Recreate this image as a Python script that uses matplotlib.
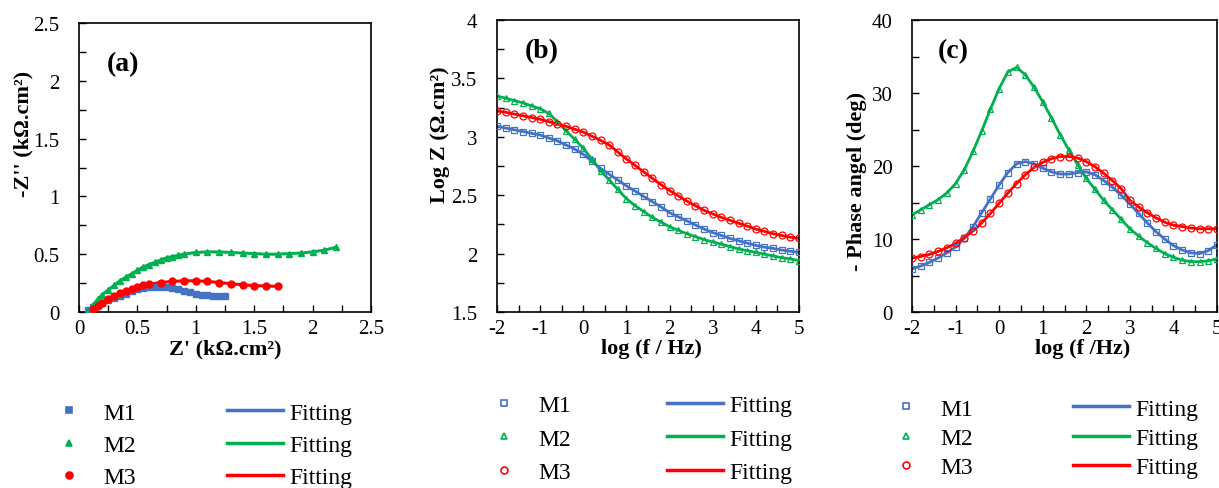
import numpy as np
import matplotlib
matplotlib.use("Agg")
import matplotlib.pyplot as plt
from matplotlib.ticker import MultipleLocator
from matplotlib.lines import Line2D

plt.rcParams['font.family'] = ['Liberation Serif', 'DejaVu Serif']

# ---------------- data ----------------
# (a) Nyquist
m1_zre = [0.08, 0.12, 0.16, 0.2, 0.25, 0.3, 0.35, 0.4, 0.45, 0.5, 0.55, 0.6, 0.65, 0.7, 0.75,
          0.8, 0.85, 0.9, 0.95, 1.0, 1.05, 1.1, 1.15, 1.2, 1.25]
m1_zim = [0.02, 0.04, 0.06, 0.08, 0.10, 0.12, 0.14, 0.16, 0.18, 0.195, 0.205, 0.215, 0.22, 0.22, 0.215,
          0.21, 0.195, 0.18, 0.17, 0.16, 0.15, 0.145, 0.14, 0.135, 0.135]
m2_zre = [0.08, 0.12, 0.16, 0.2, 0.25, 0.3, 0.35, 0.4, 0.45, 0.5, 0.55, 0.6, 0.65, 0.7, 0.75, 0.8,
          0.85, 0.9, 1.0, 1.1, 1.2, 1.3, 1.4, 1.5, 1.6, 1.7, 1.8, 1.9, 2.0, 2.1, 2.2]
m2_zim = [0.0, 0.06, 0.11, 0.15, 0.19, 0.23, 0.27, 0.30, 0.33, 0.36, 0.39, 0.41, 0.43, 0.45, 0.47, 0.48,
          0.49, 0.50, 0.515, 0.52, 0.52, 0.515, 0.51, 0.505, 0.50, 0.50, 0.505, 0.51, 0.52, 0.535, 0.56]
m3_zre = [0.12, 0.16, 0.2, 0.25, 0.3, 0.35, 0.4, 0.45, 0.5, 0.55, 0.6, 0.7, 0.8, 0.9, 1.0, 1.1,
          1.2, 1.3, 1.4, 1.5, 1.6, 1.7]
m3_zim = [0.03, 0.05, 0.08, 0.11, 0.14, 0.165, 0.185, 0.20, 0.215, 0.23, 0.24, 0.255, 0.265, 0.27, 0.27, 0.265,
          0.255, 0.245, 0.235, 0.228, 0.225, 0.222]

# (b), (c) Bode
logf = [-2.0, -1.8, -1.6, -1.4, -1.2, -1.0, -0.8, -0.6, -0.4, -0.2, 0.0, 0.2, 0.4, 0.6, 0.8, 1.0, 1.2, 1.4,
        1.6, 1.8, 2.0, 2.2, 2.4, 2.6, 2.8, 3.0, 3.2, 3.4, 3.6, 3.8, 4.0, 4.2, 4.4, 4.6, 4.8, 5.0]
m1_logz = [3.09, 3.075, 3.06, 3.045, 3.03, 3.015, 2.99, 2.965, 2.93, 2.895, 2.85, 2.79, 2.73, 2.68, 2.63, 2.58,
           2.535, 2.49, 2.445, 2.40, 2.35, 2.315, 2.28, 2.245, 2.21, 2.18, 2.155, 2.13, 2.11, 2.09, 2.07,
           2.055, 2.045, 2.03, 2.02, 2.01]
m2_logz = [3.35, 3.33, 3.31, 3.29, 3.265, 3.24, 3.20, 3.13, 3.05, 2.98, 2.90, 2.81, 2.71, 2.63, 2.55, 2.47,
           2.41, 2.36, 2.31, 2.27, 2.23, 2.20, 2.17, 2.145, 2.12, 2.10, 2.08, 2.06, 2.04, 2.025, 2.01,
           1.995, 1.98, 1.965, 1.955, 1.94]
m3_logz = [3.22, 3.21, 3.195, 3.18, 3.165, 3.15, 3.13, 3.11, 3.09, 3.065, 3.04, 3.005, 2.97, 2.93, 2.87, 2.81,
           2.755, 2.70, 2.645, 2.59, 2.54, 2.495, 2.45, 2.41, 2.37, 2.34, 2.31, 2.285, 2.26, 2.235, 2.21,
           2.19, 2.17, 2.155, 2.14, 2.13]
m1_phase = [5.9, 6.3, 6.8, 7.4, 8.1, 8.9, 10.1, 11.7, 13.6, 15.5, 17.4, 19.1, 20.3, 20.6, 20.3, 19.7,
            19.2, 18.9, 18.9, 19.1, 19.2, 18.8, 18.0, 17.1, 16.0, 14.8, 13.5, 12.2, 11.0, 10.0, 9.1,
            8.5, 8.1, 8.0, 8.4, 9.2]
m2_phase = [13.3, 14.0, 14.7, 15.4, 16.3, 17.6, 19.5, 22.0, 24.8, 27.8, 30.6, 32.9, 33.5, 32.5, 30.8, 28.8,
            26.6, 24.3, 22.2, 20.2, 18.3, 16.8, 15.3, 14.0, 12.7, 11.4, 10.4, 9.5, 8.7, 8.0, 7.5,
            7.1, 6.9, 6.9, 7.0, 7.3]
m3_phase = [7.4, 7.6, 7.9, 8.3, 8.8, 9.4, 10.2, 11.1, 12.2, 13.5, 14.9, 16.3, 17.6, 18.8, 19.8, 20.5,
            21.0, 21.3, 21.3, 21.1, 20.6, 19.9, 19.0, 18.0, 16.9, 15.3, 14.4, 13.6, 12.9, 12.3, 11.9,
            11.7, 11.5, 11.4, 11.4, 11.4]

labels = ['M1', 'M2', 'M3']
colors = ['#4472C4', '#00B050', '#FF0000']
fit_label = 'Fitting'

# ---------------- figure ----------------
W, H = 1219, 489
fig = plt.figure(figsize=(W / 100, H / 100), dpi=100)

def ax_at(l, t, r, b):
    return fig.add_axes([l / W, 1 - b / H, (r - l) / W, (b - t) / H])

axa = ax_at(79, 24, 371, 313)
axb = ax_at(497, 21, 799, 313)
axc = ax_at(912, 21, 1217, 313)

TFS = 15   # tick labels
LFS = 16   # axis labels
GFS = 17   # legend
PFS = 20   # panel letters

def style(ax):
    ax.tick_params(which='both', direction='in', length=5, width=1, labelsize=TFS,
                   top=False, right=False)
    ax.tick_params(axis='x', pad=5)
    ax.tick_params(axis='y', pad=14)
    for s in ax.spines.values():
        s.set_linewidth(1.2)

# (a)
nyq = [(m1_zre, m1_zim, 's'), (m2_zre, m2_zim, '^'), (m3_zre, m3_zim, 'o')]
for (x, y, mk), c in zip(nyq, colors):
    axa.plot(x, y, color=c, lw=2.2, zorder=2)
    axa.plot(x, y, mk, color=c, ms=5, mec=c, zorder=3)
axa.set_xlim(0, 2.5)
axa.set_ylim(0, 2.5)
axa.xaxis.set_major_locator(MultipleLocator(0.5))
axa.xaxis.set_minor_locator(MultipleLocator(0.25))
axa.yaxis.set_major_locator(MultipleLocator(0.5))
axa.yaxis.set_minor_locator(MultipleLocator(0.25))
style(axa)

# (b)
bode_z = [(m1_logz, 's'), (m2_logz, '^'), (m3_logz, 'o')]
for (y, mk), c in zip(bode_z, colors):
    axb.plot(logf, y, color=c, lw=2.0, zorder=2)
    axb.plot(logf, y, mk, color=c, ms=5, mfc='none', mec=c, mew=0.9, zorder=3)
axb.set_xlim(-2, 5)
axb.set_ylim(1.5, 4)
axb.xaxis.set_major_locator(MultipleLocator(1))
axb.xaxis.set_minor_locator(MultipleLocator(0.5))
axb.yaxis.set_major_locator(MultipleLocator(0.5))
axb.yaxis.set_minor_locator(MultipleLocator(0.25))
style(axb)

# (c)
bode_p = [(m1_phase, 's'), (m2_phase, '^'), (m3_phase, 'o')]
for (y, mk), c in zip(bode_p, colors):
    axc.plot(logf, y, color=c, lw=2.0, zorder=2)
    axc.plot(logf, y, mk, color=c, ms=5, mfc='none', mec=c, mew=0.9, zorder=3)
axc.set_xlim(-2, 5)
axc.set_ylim(0, 40)
axc.xaxis.set_major_locator(MultipleLocator(1))
axc.xaxis.set_minor_locator(MultipleLocator(0.5))
axc.yaxis.set_major_locator(MultipleLocator(10))
axc.yaxis.set_minor_locator(MultipleLocator(5))
style(axc)

def fmt(v, pos):
    return ('%g' % v)
for ax in (axa, axb, axc):
    ax.xaxis.set_major_formatter(plt.FuncFormatter(fmt))
    ax.yaxis.set_major_formatter(plt.FuncFormatter(fmt))

# panel letters
axa.text(0.096, 0.86, '(a)', transform=axa.transAxes, fontsize=PFS, fontweight='bold', va='center')
axb.text(0.093, 0.894, '(b)', transform=axb.transAxes, fontsize=PFS, fontweight='bold', va='center')
axc.text(0.085, 0.894, '(c)', transform=axc.transAxes, fontsize=PFS, fontweight='bold', va='center')

# axis labels
axa.text(-0.19, 0.62, "-Z'' (kΩ.cm²)", transform=axa.transAxes, rotation=90,
         fontsize=LFS, fontweight='bold', ha='center', va='center')
axa.text(0.5, -0.125, "Z' (kΩ.cm²)", transform=axa.transAxes,
         fontsize=LFS, fontweight='bold', ha='center', va='center')
axb.text(-0.19, 0.61, "Log Z (Ω.cm²)", transform=axb.transAxes, rotation=90,
         fontsize=LFS, fontweight='bold', ha='center', va='center')
axb.text(0.513, -0.123, "log (f / Hz)", transform=axb.transAxes,
         fontsize=LFS, fontweight='bold', ha='center', va='center')
axc.text(-0.18, 0.45, "- Phase angel (deg)", transform=axc.transAxes, rotation=90,
         fontsize=LFS, fontweight='bold', ha='center', va='center')
axc.text(0.56, -0.123, "log (f /Hz)", transform=axc.transAxes,
         fontsize=LFS, fontweight='bold', ha='center', va='center')

# legends
px = GFS * 100 / 72.0  # font size in pixels

def legends(x_marker, x_line, y_mid, row_px, filled):
    mk = ['s', '^', 'o']
    mh = [Line2D([], [], ls='none', marker=m, color=c, ms=5,
                 mfc=c if filled else 'none', mec=c, mew=1.2) for m, c in zip(mk, colors)]
    lh = [Line2D([], [], color=c, lw=2.5) for c in colors]
    ls = max(row_px - 0.97 * px, 0) / px
    common = dict(frameon=False, fontsize=GFS, handlelength=56 / px, handletextpad=6 / px,
                  borderpad=0, borderaxespad=0, labelspacing=ls, loc='center left')
    fig.legend(mh, labels, bbox_to_anchor=(x_marker / W, 1 - y_mid / H), **common)
    fig.legend(lh, [fit_label] * 3, bbox_to_anchor=(x_line / W, 1 - y_mid / H), **common)

legends(41, 227, 446, 33.5, True)
legends(476, 667, 440, 35, False)
legends(878, 1073, 439, 30.5, False)

fig.savefig('out.png', dpi=100)
